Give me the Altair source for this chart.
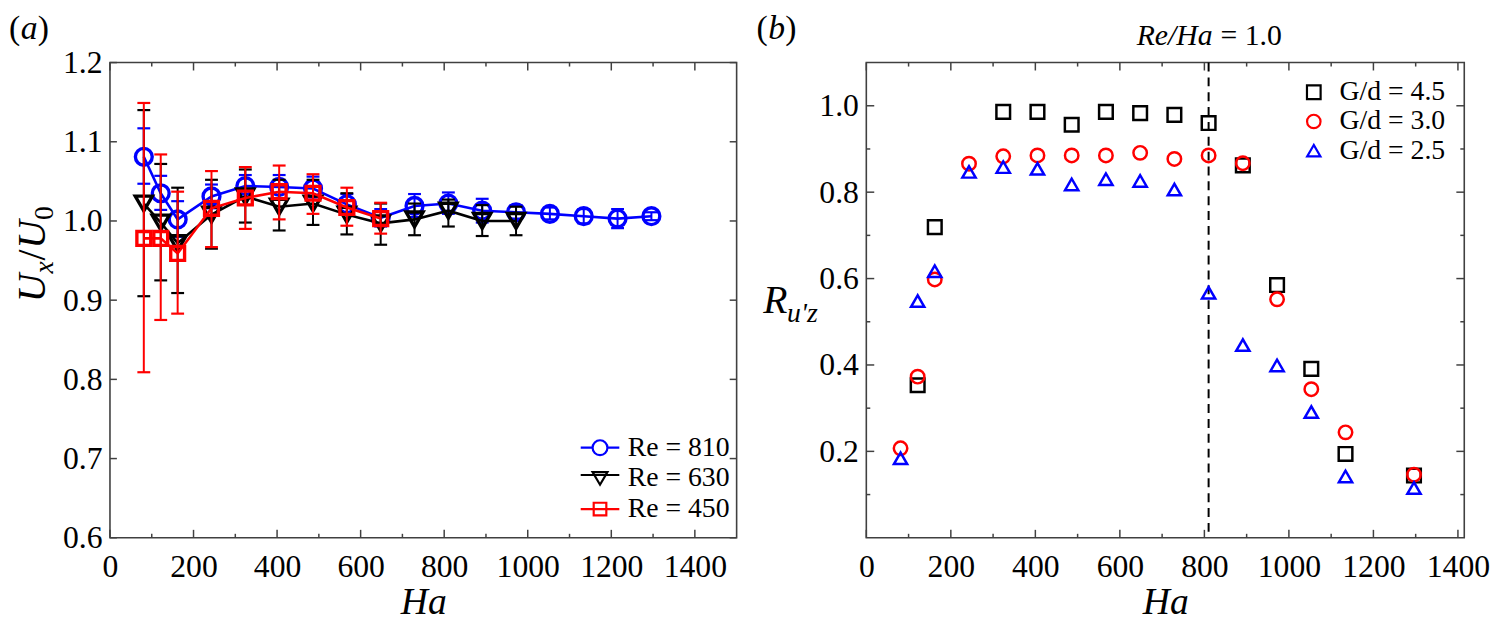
import altair as alt
import pandas as pd

FONT = "Liberation Serif"
INK = "#404040"

# ---------------- panel (a) data ----------------
ha_a = [81, 121.5, 162, 243, 324, 405, 486, 567, 648, 729, 810, 891, 972, 1053, 1134, 1215, 1296]

re810_mean = [1.081, 1.035, 1.002, 1.031, 1.044, 1.043, 1.041, 1.021, 1.004, 1.019, 1.022, 1.013, 1.011, 1.009, 1.006, 1.003, 1.006]
re810_lo = [1.047, 1.014, 0.980, 1.016, 1.030, 1.028, 1.027, 1.010, 0.993, 1.005, 1.009, 0.998, 1.003, 1.002, 0.997, 0.991, 1.001]
re810_hi = [1.117, 1.057, 1.025, 1.046, 1.058, 1.058, 1.056, 1.034, 1.015, 1.034, 1.036, 1.028, 1.020, 1.017, 1.015, 1.015, 1.011]

re630_mean = [1.022, 0.998, 0.972, 1.008, 1.031, 1.018, 1.022, 1.008, 0.997, 1.002, 1.013, 1.000, 1.000]
re630_lo = [0.905, 0.925, 0.909, 0.965, 0.998, 0.988, 0.995, 0.983, 0.970, 0.982, 0.993, 0.981, 0.982]
re630_hi = [1.140, 1.072, 1.042, 1.052, 1.065, 1.052, 1.052, 1.035, 1.022, 1.022, 1.027, 1.020, 1.018]

re450_mean = [0.978, 0.978, 0.959, 1.016, 1.029, 1.037, 1.035, 1.017, 1.003]
re450_lo = [0.809, 0.875, 0.883, 0.967, 0.990, 1.002, 1.009, 0.994, 0.984]
re450_hi = [1.149, 1.084, 1.037, 1.063, 1.068, 1.070, 1.059, 1.042, 1.023]

series_a_names = ["Re = 810", "Re = 630", "Re = 450"]
series_a_colors = ["#0000ff", "#000000", "#ff0000"]

# ---------------- panel (b) data ----------------
ha_b = [81, 121.5, 162, 243, 324, 405, 486, 567, 648, 729, 810, 891, 972, 1053, 1134, 1296]
ha_g45 = [121.5, 162, 324, 405, 486, 567, 648, 729, 810, 891, 972, 1053, 1134, 1296]
g45 = [0.353, 0.719, 0.986, 0.986, 0.956, 0.986, 0.983, 0.979, 0.960, 0.862, 0.585, 0.391, 0.194, 0.144]
g30 = [0.207, 0.373, 0.598, 0.866, 0.883, 0.885, 0.885, 0.885, 0.891, 0.877, 0.885, 0.867, 0.552, 0.344, 0.244, 0.146]
g25 = [0.184, 0.548, 0.617, 0.847, 0.858, 0.854, 0.818, 0.830, 0.826, 0.806, 0.567, 0.446, 0.399, 0.291, 0.142, 0.115]
series_b_names = ["G/d = 4.5", "G/d = 3.0", "G/d = 2.5"]
series_b_colors = ["#000000", "#ff0000", "#0000ff"]
re_ha_one = [810]

# tick values
a_x_labels = [0, 200, 400, 600, 800, 1000, 1200, 1400]
a_x_minor = [100, 300, 500, 700, 900, 1100, 1300]
a_y_labels = [0.6, 0.7, 0.8, 0.9, 1.0, 1.1, 1.2]
b_x_labels = [0, 200, 400, 600, 800, 1000, 1200, 1400]
b_x_minor = [100, 300, 500, 700, 900, 1100, 1300]
b_y_labels = [0.2, 0.4, 0.6, 0.8, 1.0]
b_y_minor = [0.1, 0.3, 0.5, 0.7, 0.9]

WA, HA = 633, 480
WB, HB = 604, 480

xa = alt.Scale(domain=[0, 1500], nice=False, zero=False)
ya = alt.Scale(domain=[0.6, 1.2], nice=False, zero=False)
xb = alt.Scale(domain=[0, 1415], nice=False, zero=False)
yb = alt.Scale(domain=[0, 1.1], nice=False, zero=False)

ax_common = dict(ticks=False, tickSize=0, domain=False, grid=False, labelFlush=False,
                 labelOverlap=False, labelFont=FONT, labelFontSize=32, labelColor="black",
                 titleFont=FONT, titleFontSize=38, titleFontStyle="italic",
                 titleFontWeight="normal", titleColor="black")
ax_xa = alt.Axis(values=a_x_labels, format="d", title="Ha", labelPadding=14, titlePadding=2, **ax_common)
ax_ya = alt.Axis(values=a_y_labels, format=".1f", title=None, labelPadding=8, **ax_common)
ax_xb = alt.Axis(values=b_x_labels, format="d", title="Ha", labelPadding=14, titlePadding=2, **ax_common)
ax_yb = alt.Axis(values=b_y_labels, format=".1f", title=None, labelPadding=8, **ax_common)


def txt(s, x, y, size, style="normal", align="left", angle=0):
    return alt.Chart(pd.DataFrame({"s": [s]})).mark_text(
        font=FONT, fontSize=size, fontStyle=style, align=align, baseline="alphabetic",
        angle=angle, color="black"
    ).encode(x=alt.value(x), y=alt.value(y), text="s:N")


def frame_ticks(xs, ys, axx, axy, xmaj, xmin, ymaj, ymin, W, H, ymaj_len):
    out = []
    for vals, L in ((xmaj, 8), (xmin, 4)):
        d = alt.Chart(pd.DataFrame({"t": vals}))
        X = alt.X("t:Q", scale=xs, axis=axx)
        out.append(d.mark_rule(color=INK, strokeWidth=1.5).encode(x=X, y=alt.value(H), y2=alt.value(H - L)))
        out.append(d.mark_rule(color=INK, strokeWidth=1.5).encode(x=X, y=alt.value(0), y2=alt.value(L)))
    for vals, L in ((ymaj, ymaj_len), (ymin, 4)):
        if not vals:
            continue
        d = alt.Chart(pd.DataFrame({"t": vals}))
        Y = alt.Y("t:Q", scale=ys, axis=axy)
        out.append(d.mark_rule(color=INK, strokeWidth=1.5).encode(y=Y, x=alt.value(0), x2=alt.value(L)))
        out.append(d.mark_rule(color=INK, strokeWidth=1.5).encode(y=Y, x=alt.value(W), x2=alt.value(W - L)))
    return out


# ---------------- panel (a) ----------------
def series_layers(name, ha, mean, lo, hi, color, shape, size):
    df = pd.DataFrame({"Ha": ha, "v": mean, "lo": lo, "hi": hi, "series": name})
    base = alt.Chart(df)
    X = alt.X("Ha:Q", scale=xa, axis=ax_xa)
    bars = base.mark_rule(color=color, strokeWidth=2).encode(
        x=X, y=alt.Y("lo:Q", scale=ya, axis=ax_ya), y2="hi:Q")
    cap_lo = base.mark_tick(color=color, orient="horizontal", size=13, thickness=2.2, opacity=1).encode(
        x=X, y=alt.Y("lo:Q", scale=ya, axis=ax_ya))
    cap_hi = base.mark_tick(color=color, orient="horizontal", size=13, thickness=2.2, opacity=1).encode(
        x=X, y=alt.Y("hi:Q", scale=ya, axis=ax_ya))
    line = base.mark_line(color=color, strokeWidth=2.6).encode(
        x=X, y=alt.Y("v:Q", scale=ya, axis=ax_ya))
    pts = base.mark_point(shape=shape, size=size, filled=False, strokeWidth=3.4, color=color, opacity=1).encode(
        x=X, y=alt.Y("v:Q", scale=ya, axis=ax_ya))
    return [bars, cap_lo, cap_hi, line, pts]


layers_a = []
layers_a += series_layers(series_a_names[0], ha_a, re810_mean, re810_lo, re810_hi, series_a_colors[0], "circle", 289)
layers_a += series_layers(series_a_names[1], ha_a[:len(re630_mean)], re630_mean, re630_lo, re630_hi, series_a_colors[1], "triangle-down", 300)
layers_a += series_layers(series_a_names[2], ha_a[:len(re450_mean)], re450_mean, re450_lo, re450_hi, series_a_colors[2], "square", 196)

# legend with line + marker symbols
leg_paths = [
    "M-2.6,0L-1,0M1,0L2.6,0M-1,0A1,1,0,1,0,1,0A1,1,0,1,0,-1,0",
    "M-2.6,-0.45L2.6,-0.45M-1,-0.85L1,-0.85L0,0.85Z",
    "M-2.6,0L2.6,0M-0.85,-0.85L0.85,-0.85L0.85,0.85L-0.85,0.85Z",
]
leg_a = alt.Legend(orient="none", legendX=481, legendY=375, title=None, padding=0,
                   labelFont=FONT, labelFontSize=28, labelColor="black", labelOffset=14,
                   symbolSize=225, symbolStrokeWidth=2.2, rowPadding=3, labelLimit=300)
legend_df = pd.DataFrame({"series": series_a_names, "Ha": [-1, -1, -1]})
legend_layer = alt.Chart(legend_df).transform_filter("datum.Ha > 0").mark_point(
    filled=False, opacity=1, strokeWidth=2.2, size=225
).encode(
    color=alt.Color("series:N", scale=alt.Scale(domain=series_a_names, range=series_a_colors), legend=leg_a),
    shape=alt.Shape("series:N", scale=alt.Scale(domain=series_a_names, range=leg_paths), legend=leg_a),
)
layers_a.append(legend_layer)

layers_a += frame_ticks(xa, ya, ax_xa, ax_ya, a_x_labels, a_x_minor, a_y_labels, [], WA, HA, 7)

# y title U_x / U_0 (rotated) and panel label
dy = -28
tx = -66
layers_a += [
    txt("U", tx, 270 + dy, 40, "italic", angle=270),
    txt("x", tx + 8, 241 + dy, 28, "italic", angle=270),
    txt("/", tx, 228 + dy, 40, "normal", angle=270),
    txt("U", tx, 216 + dy, 40, "italic", angle=270),
    txt("0", tx + 8, 187 + dy, 28, "normal", angle=270),
    txt("(", -102, -24, 34),
    txt("a", -90, -24, 34, "italic"),
    txt(")", -73, -24, 34),
]

panel_a = alt.layer(*layers_a).properties(width=WA, height=HA)

# ---------------- panel (b) ----------------
df_b = pd.concat([
    pd.DataFrame({"Ha": ha_g45, "R": g45, "gd": series_b_names[0]}),
    pd.DataFrame({"Ha": ha_b, "R": g30, "gd": series_b_names[1]}),
    pd.DataFrame({"Ha": ha_b, "R": g25, "gd": series_b_names[2]}),
], ignore_index=True)

leg_b = alt.Legend(orient="none", legendX=438, legendY=16, title=None, padding=0,
                   labelFont=FONT, labelFontSize=28, labelColor="black", labelOffset=12,
                   symbolSize=180, symbolStrokeWidth=2.2, rowPadding=1.5, labelLimit=300)

pts_b = alt.Chart(df_b).mark_point(filled=False, opacity=1, strokeWidth=2.5).encode(
    x=alt.X("Ha:Q", scale=xb, axis=ax_xb),
    y=alt.Y("R:Q", scale=yb, axis=ax_yb),
    color=alt.Color("gd:N", scale=alt.Scale(domain=series_b_names, range=series_b_colors), legend=leg_b),
    shape=alt.Shape("gd:N", scale=alt.Scale(domain=series_b_names, range=["square", "circle", "triangle-up"]), legend=leg_b),
    size=alt.Size("gd:N", scale=alt.Scale(domain=series_b_names, range=[190, 180, 330]), legend=None),
)

thr = pd.DataFrame({"Ha": re_ha_one, "a": ["Re/Ha"], "b": ["= 1.0"]})
dash = alt.Chart(thr).mark_rule(color="black", strokeWidth=2, strokeDash=[9, 6]).encode(
    x=alt.X("Ha:Q", scale=xb, axis=ax_xb))
lab1 = alt.Chart(thr).mark_text(font=FONT, fontSize=30, fontStyle="italic", align="right",
                                baseline="alphabetic", dx=4, color="black").encode(
    x=alt.X("Ha:Q", scale=xb, axis=ax_xb), y=alt.value(-18), text="a:N")
lab2 = alt.Chart(thr).mark_text(font=FONT, fontSize=30, align="left",
                                baseline="alphabetic", dx=12, color="black").encode(
    x=alt.X("Ha:Q", scale=xb, axis=ax_xb), y=alt.value(-18), text="b:N")

layers_b = [dash, pts_b, lab1, lab2]
layers_b += frame_ticks(xb, yb, ax_xb, ax_yb, b_x_labels, b_x_minor, b_y_labels, b_y_minor, WB, HB, 8)
layers_b += [
    txt("R", -104, 253, 40, "italic"),
    txt("u'z", -80, 262, 28, "italic"),
    txt("(", -111, -24, 34),
    txt("b", -99, -24, 34, "italic"),
    txt(")", -82, -24, 34),
]
panel_b = alt.layer(*layers_b).properties(width=WB, height=HB)

chart = alt.hconcat(panel_a, panel_b, spacing=131, bounds="flush").resolve_scale(
    color="independent", shape="independent", size="independent"
).resolve_legend(
    color="independent", shape="independent", size="independent"
).properties(
    padding=0, background="white"
).configure_view(stroke=INK, strokeWidth=1.6)

chart.save("out.html", embed_options={"renderer": "svg", "actions": False})
